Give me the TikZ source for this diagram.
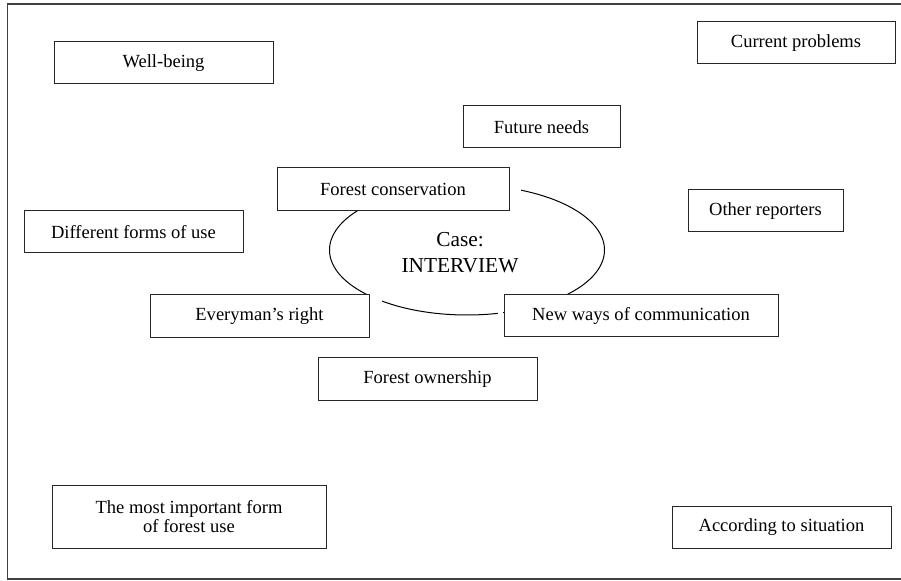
\documentclass[tikz,border=0pt]{standalone}
\usepackage{fontspec}
\setmainfont{Liberation Serif}
\usetikzlibrary{shapes.geometric}
\begin{document}
\begin{tikzpicture}[x=0.75pt,y=-0.75pt,
  box/.style={draw=black!85, line width=0.75pt, fill=white, inner sep=0pt,
    font=\fontsize{13.9}{14.6}\selectfont, align=center},
  frameline/.style={draw=black!75, line width=1.1pt},
  ring/.style={draw=black, line width=0.75pt},
  casetext/.style={font=\fontsize{16}{19.5}\selectfont, align=center, inner sep=0pt}]
\useasboundingbox (0,0) rectangle (901,581);
\draw[frameline] (902,4) -- (7.5,4) -- (7.5,579) -- (902,579);
% central ellipse
\node[ring, ellipse, minimum width=275*0.75pt, minimum height=130*0.75pt, inner sep=0pt] (case) at (467,250) {};
\node[casetext] (casetxt) at (460,253) {Case:\\INTERVIEW};
% boxes
\node[box, minimum width=219*0.75pt, minimum height=42*0.75pt] (wb) at (163.5,63) {Well-being};
\node[box, minimum width=198*0.75pt, minimum height=42*0.75pt] (cp) at (796,43) {Current problems};
\node[box, minimum width=157*0.75pt, minimum height=42*0.75pt] (fn) at (541.5,127) {Future needs};
\node[box, minimum width=232*0.75pt, minimum height=43*0.75pt] (fc) at (393,189.5) {Forest conservation};
\node[box, minimum width=155*0.75pt, minimum height=42*0.75pt] (or) at (765.5,211) {Other reporters};
\node[box, minimum width=219*0.75pt, minimum height=42*0.75pt] (df) at (133.5,232) {Different forms of use};
\node[box, minimum width=219*0.75pt, minimum height=43*0.75pt] (er) at (259.5,316.5) {Everyman’s right};
\node[box, minimum width=274*0.75pt, minimum height=42*0.75pt] (nw) at (641,316) {New ways of communication};
\node[box, minimum width=219*0.75pt, minimum height=43*0.75pt] (fo) at (427.5,379.5) {Forest ownership};
\node[box, minimum width=274*0.75pt, minimum height=63*0.75pt] (mi) at (189,516.5) {The most important form\\of forest use};
\node[box, minimum width=219*0.75pt, minimum height=42*0.75pt] (as) at (781.5,527) {According to situation};
% invisible white margins of the text boxes that hide parts of the ellipse
\fill[white] ([xshift=0.6pt]fc.north east) rectangle ([xshift=11*0.75pt]fc.south east);
\fill[white] ([xshift=0.6pt]er.north east) rectangle ([xshift=12*0.75pt]er.south east);
\fill[white] ([xshift=-0.6pt]nw.north west) rectangle ([xshift=-6*0.75pt]nw.south west);
\end{tikzpicture}
\end{document}
